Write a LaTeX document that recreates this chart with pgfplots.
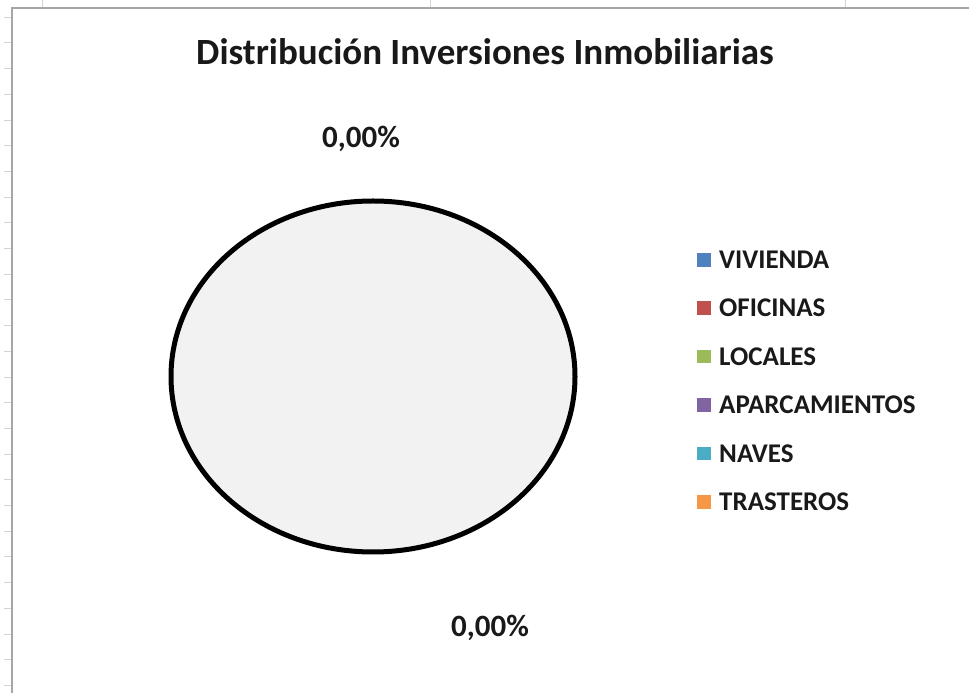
\documentclass[border=0pt]{standalone}
\usepackage{pgfplots}
\pgfplotsset{compat=1.18}
\usepackage{fontspec}
\setmainfont{Carlito}
\definecolor{cViv}{HTML}{4F81BD}
\definecolor{cOfi}{HTML}{C0504D}
\definecolor{cLoc}{HTML}{9BBB59}
\definecolor{cApa}{HTML}{8064A2}
\definecolor{cNav}{HTML}{4BACC6}
\definecolor{cTra}{HTML}{F79646}
\definecolor{pieFill}{HTML}{F2F2F2}
\definecolor{frameGray}{HTML}{A6A6A6}
\definecolor{gridGray}{HTML}{D4D4D4}
\begin{document}
\begin{tikzpicture}
\useasboundingbox (0,0) rectangle (969pt,693pt);
\begin{axis}[
  at={(0,0)}, anchor=south west,
  width=969pt, height=693pt, scale only axis,
  xmin=0, xmax=969, ymin=0, ymax=693,
  hide axis, clip=false,
  legend style={at={(axis cs:694,444)}, anchor=north west, draw=none, fill=none,
    font=\fontsize{27}{27}\selectfont\bfseries, text=black!90,
    row sep=31pt,
    nodes={inner sep=0pt, text height=17.4pt, text depth=0pt}},
  legend cell align=left,
  legend image code/.code={\fill[#1] (0pt,-6.8pt) rectangle (13.5pt,6.8pt); \path (22pt,0pt);},
]
% spreadsheet background grid
\pgfplotsinvokeforeach{675.7,650,624.3,598.6,572.9,547.2,521.5,495.8,470.1,444.4,418.7,393,367.3,341.6,315.9,290.2,264.5,238.8,213.1,187.4,161.7,136,110.3,84.6,58.9,33.2,7.5}{
  \draw[gridGray, line width=1pt] (axis cs:4,#1) -- (axis cs:12,#1);
}
\pgfplotsinvokeforeach{42,430,845}{
  \draw[gridGray, line width=1pt] (axis cs:#1,693) -- (axis cs:#1,685);
}
% chart frame
\draw[frameGray, line width=2pt] (axis cs:12,-10) -- (axis cs:12,685) -- (axis cs:980,685);
% degenerate pie (all values 0)
\filldraw[fill=pieFill, draw=black, line width=5pt] (axis cs:373,316.5) ellipse [x radius=202, y radius=175.5];
% series (all zero) for the legend
\addplot[draw=none, fill=cViv] coordinates {(373,316)};
\addlegendentry{VIVIENDA}
\addplot[draw=none, fill=cOfi] coordinates {(373,316)};
\addlegendentry{OFICINAS}
\addplot[draw=none, fill=cLoc] coordinates {(373,316)};
\addlegendentry{LOCALES}
\addplot[draw=none, fill=cApa] coordinates {(373,316)};
\addlegendentry{APARCAMIENTOS}
\addplot[draw=none, fill=cNav] coordinates {(373,316)};
\addlegendentry{NAVES}
\addplot[draw=none, fill=cTra] coordinates {(373,316)};
\addlegendentry{TRASTEROS}
% title and data labels
\node[anchor=base, font=\fontsize{37}{37}\selectfont\bfseries, text=black!90] at (axis cs:485,628) {Distribución Inversiones Inmobiliarias};
\node[anchor=base, font=\fontsize{31}{31}\selectfont\bfseries, text=black!90] at (axis cs:361,545) {0,00\%};
\node[anchor=base, font=\fontsize{31}{31}\selectfont\bfseries, text=black!90] at (axis cs:490,56) {0,00\%};
\end{axis}
\end{tikzpicture}
\end{document}
